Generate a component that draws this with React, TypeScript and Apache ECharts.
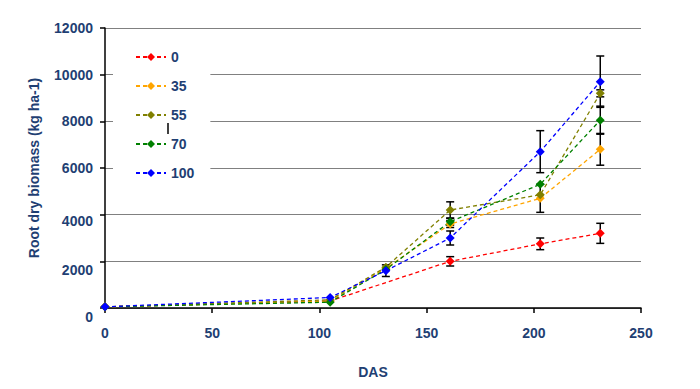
import React, { useEffect, useRef } from "react";
import * as echarts from "echarts";

const seriesNames = ["0", "35", "55", "70", "100"];
const seriesColors = ["#FF0000", "#FFA500", "#808000", "#008000", "#0000FF"];
const daysRed = [0, 105, 161, 203, 231];
const daysAll = [0, 105, 131, 161, 203, 231];
const values0 = [50, 300, 2000, 2750, 3200];
const values35 = [50, 300, 1700, 3600, 4700, 6800];
const values55 = [50, 350, 1750, 4200, 4850, 9200];
const values70 = [50, 250, 1650, 3700, 5300, 8050];
const values100 = [50, 450, 1600, 3000, 6700, 9700];
const err0 = [0, 0, 200, 250, 430];
const err35 = [0, 0, 0, 150, 600, 680];
const err55 = [0, 0, 0, 350, 0, 150];
const err70 = [0, 0, 0, 150, 0, 600];
const err100 = [0, 0, 250, 300, 900, 1100];
const yTicks = [0, 2000, 4000, 6000, 8000, 10000, 12000];
const xTicks = [0, 50, 100, 150, 200, 250];

const LABEL = "#1F3F73";
const FONT = "Liberation Sans, Arial, sans-serif";

export default function App() {
  const ref = useRef<HTMLDivElement>(null);
  useEffect(() => {
    if (!ref.current) return;
    const chart = echarts.init(ref.current, undefined, { renderer: "svg" });
    const xsList = [daysRed, daysAll, daysAll, daysAll, daysAll];
    const valsList = [values0, values35, values55, values70, values100];
    const errList = [err0, err35, err55, err70, err100];
    const lineSeries = seriesNames.map((name, i) => ({
      name,
      type: "line",
      data: valsList[i].map((v, j) => [xsList[i][j], v]),
      symbol: "diamond",
      symbolSize: 9,
      z: 3,
      itemStyle: { color: seriesColors[i] },
      lineStyle: { color: seriesColors[i], width: 1.3, type: [4, 3] },
    }));
    const errData: number[][] = [];
    valsList.forEach((vals, i) => {
      vals.forEach((v, j) => {
        const e = errList[i][j];
        if (e > 0) errData.push([xsList[i][j], v - e, v + e]);
      });
    });
    const errSeries = {
      type: "custom",
      name: "err",
      z: 2,
      silent: true,
      data: errData,
      encode: { x: 0, y: [1, 2] },
      renderItem: (params: any, api: any) => {
        const x = api.value(0);
        const lo = api.coord([x, api.value(1)]);
        const hi = api.coord([x, api.value(2)]);
        const w = 4;
        const style = { stroke: "#000", lineWidth: 1.5 };
        return {
          type: "group",
          children: [
            { type: "line", shape: { x1: lo[0], y1: lo[1], x2: hi[0], y2: hi[1] }, style },
            { type: "line", shape: { x1: lo[0] - w, y1: lo[1], x2: lo[0] + w, y2: lo[1] }, style },
            { type: "line", shape: { x1: hi[0] - w, y1: hi[1], x2: hi[0] + w, y2: hi[1] }, style },
          ],
        };
      },
    };
    chart.setOption({
      animation: false,
      backgroundColor: "#fff",
      textStyle: { fontFamily: FONT },
      grid: { left: 105, top: 28, width: 536, height: 280 },
      legend: {
        orient: "vertical",
        left: 113,
        top: 40,
        padding: [10, 16, 10, 22],
        backgroundColor: "#fff",
        data: seriesNames,
        itemWidth: 30,
        itemHeight: 10,
        itemGap: 15,
        textStyle: { color: LABEL, fontWeight: "bold", fontSize: 14, fontFamily: FONT },
        z: 10,
      },
      xAxis: {
        type: "value",
        min: xTicks[0],
        max: xTicks[xTicks.length - 1],
        interval: 50,
        name: "DAS",
        nameLocation: "middle",
        nameGap: 57,
        nameTextStyle: { color: LABEL, fontWeight: "bold", fontSize: 14 },
        axisLine: { lineStyle: { color: "#000", width: 1.5 } },
        axisTick: { show: true, inside: false, length: 5, lineStyle: { color: "#000", width: 1.5 } },
        axisLabel: { color: LABEL, fontWeight: "bold", fontSize: 14, margin: 18 },
        splitLine: { show: false },
      },
      yAxis: {
        type: "value",
        min: yTicks[0],
        max: yTicks[yTicks.length - 1],
        interval: 2000,
        name: "Root dry biomass (kg ha-1)",
        nameLocation: "middle",
        nameRotate: 90,
        nameGap: 64,
        nameTextStyle: { color: LABEL, fontWeight: "bold", fontSize: 14 },
        axisLine: { show: true, lineStyle: { color: "#000", width: 1.5 } },
        axisTick: { show: true, inside: false, length: 5, lineStyle: { color: "#000", width: 1.5 } },
        axisLabel: {
          color: LABEL,
          fontWeight: "bold",
          fontSize: 14,
          margin: 12,
          formatter: (v: number) => (v <= 4000 ? (v <= 2000 ? `{a|${v}}` : `{b|${v}}`) : `${v}`),
          rich: {
            a: { color: LABEL, fontWeight: "bold", fontSize: 14, padding: [17, 0, 0, 0] },
            b: { color: LABEL, fontWeight: "bold", fontSize: 14, padding: [13, 0, 0, 0] },
          },
        },
        splitLine: { show: true, lineStyle: { color: "#808080", width: 1.2 } },
      },
      graphic: [
        {
          type: "line",
          z: 100,
          shape: { x1: 168, y1: 123, x2: 168, y2: 134 },
          style: { stroke: "#000", lineWidth: 1.5 },
        },
      ],
      series: [errSeries, ...lineSeries],
    });
    return () => chart.dispose();
  }, []);
  return (
    <div
      ref={ref}
      style={{ position: "fixed", left: 0, top: 0, width: 700, height: 389 }}
    />
  );
}
